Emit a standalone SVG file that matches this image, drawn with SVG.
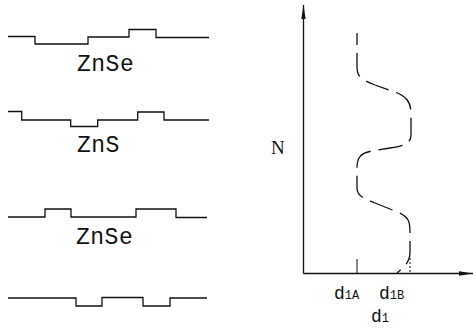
<svg xmlns="http://www.w3.org/2000/svg" width="473" height="332" viewBox="0 0 473 332">
<style>
.prof{fill:none;stroke:#111;stroke-width:1.3}
.lab{font-family:"Liberation Mono",monospace;fill:#111}
.axis{fill:none;stroke:#111;stroke-width:1.3}
.curve{fill:none;stroke:#111;stroke-width:1.3;stroke-dasharray:24 8;stroke-dashoffset:12}
</style>
<defs>
<marker id="ah" markerWidth="14" markerHeight="6" refX="14" refY="3" orient="auto" markerUnits="userSpaceOnUse">
<path d="M0,0.8 L14,3 L0,5.2 Z" fill="#111"/>
</marker>
</defs>
<rect width="473" height="332" fill="#fff"/>
<g id="layer-znse-top">
<path class="prof" d="M8,36.5 H35 V44 H88 V37 H129 V29.5 H156 V37.5 H209"/>
<text class="lab" x="77" y="71" font-size="23" letter-spacing="0.5">ZnSe</text>
</g>
<g id="layer-zns">
<path class="prof" d="M8,111.5 H21.7 V120 H70.7 V126.5 H97.7 V120 H137.7 V112 H164 V120 H209"/>
<text class="lab" x="77" y="152" font-size="23" letter-spacing="0.5">ZnS</text>
</g>
<g id="layer-znse-bottom">
<path class="prof" d="M8,217 H45 V209 H71 V217 H136 V209 H176 V217.5 H207"/>
<text class="lab" x="76" y="244" font-size="23" letter-spacing="0.5">ZnSe</text>
</g>
<g id="layer-bottom">
<path class="prof" d="M8,298 H76 V306 H102 V297.5 H143 V306 H170 V298 H207"/>
</g>
<g id="connectors">
<path class="axis" d="M303.5,273.5 V5" marker-end="url(#ah)"/>
<path class="axis" d="M303.5,273.5 H473" marker-end="url(#ah)"/>
</g>
<g id="curve">
<path class="curve" d="M357,33 V67 C357,77 362,80 375,85 L395,92 C408,97 411,103 411,115 V135 C411,143 405,146 390,148 L372,151 C360,153 357,158 357,168 V188 C357,195 362,198 375,203 L395,211 C408,216 410,220 410,232 V252 C410,262 405,266 397,273"/>
<path d="M357,259 V273" stroke="#111" stroke-width="1"/>
<path d="M410,258 V273" stroke="#111" stroke-width="1" stroke-dasharray="2 2"/>
</g>
<g id="labels">
<text x="271" y="154" font-family="Liberation Serif,serif" font-size="19" fill="#111">N</text>
<text class="lab" x="334" y="299" font-size="18">d<tspan font-size="12">1A</tspan></text>
<text class="lab" x="379" y="299" font-size="18">d<tspan font-size="12">1B</tspan></text>
<text class="lab" x="371" y="322" font-size="18">d<tspan font-size="12">1</tspan></text>
</g>
</svg>
